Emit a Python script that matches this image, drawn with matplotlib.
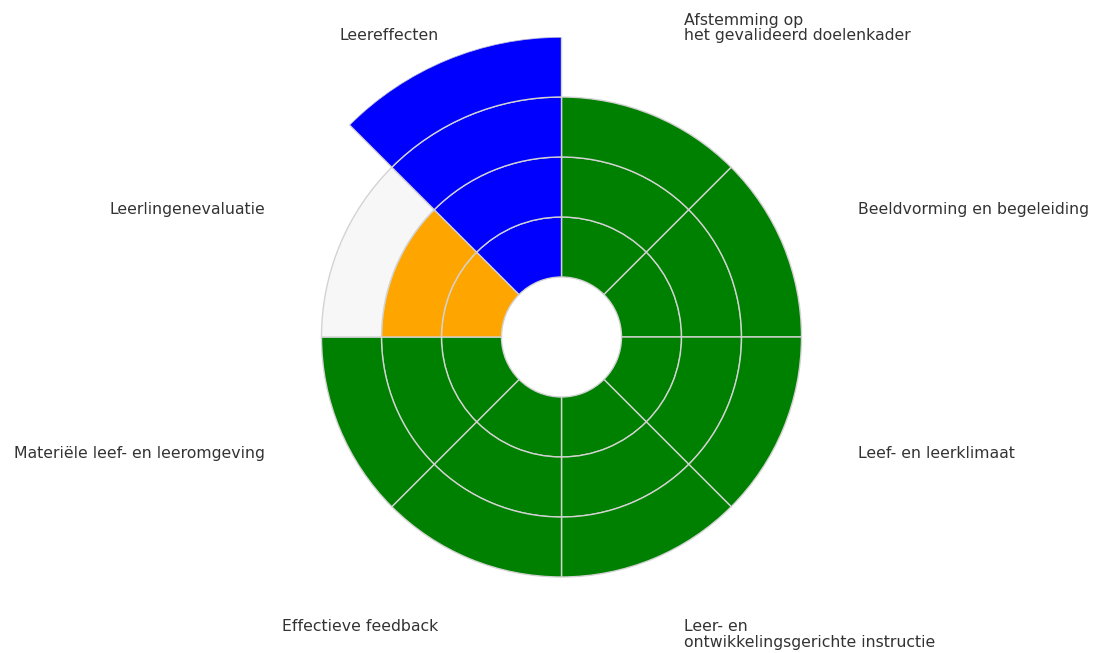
import numpy as np
import matplotlib
matplotlib.use("Agg")
import matplotlib.pyplot as plt

# sectors, clockwise from 12 o'clock
labels = [
    "Afstemming op\nhet gevalideerd doelenkader",
    "Beeldvorming en begeleiding",
    "Leef- en leerklimaat",
    "Leer- en\nontwikkelingsgerichte instructie",
    "Effectieve feedback",
    "Materiële leef- en leeromgeving",
    "Leerlingenevaluatie",
    "Leereffecten",
]
scores = [3, 3, 3, 3, 3, 3, 2, 4]      # filled rings per sector
max_scores = [3, 3, 3, 3, 3, 3, 3, 4]  # rings incl. empty (grey) ones
colors = ["green", "green", "green", "green", "green", "green", "orange", "blue"]

HOLE = 1.0
EMPTY = "#f7f7f7"
EDGE = "lightgray"

fig = plt.figure(figsize=(11.01, 6.53), dpi=100)
ax = fig.add_axes([261.5 / 1101, 16 / 653, 600 / 1101, 600 / 653], polar=True)
ax.set_theta_zero_location("N")
ax.set_theta_direction(-1)

n = len(labels)
width = 2 * np.pi / n
theta = np.arange(n) * width + width / 2

for i in range(n):
    for lvl in range(max_scores[i]):
        fc = colors[i] if lvl < scores[i] else EMPTY
        ax.bar(theta[i], 1, width=width, bottom=HOLE + lvl, color=fc,
               edgecolor=EDGE, linewidth=1, align="center")

ax.set_ylim(0, 5)
ax.set_xticks([])
ax.set_yticks([])
ax.grid(False)
ax.spines["polar"].set_visible(False)

# labels just outside the chart, left/right aligned by side
for t, lab in zip(theta, labels):
    ha = "left" if np.sin(t) > 0 else "right"
    if np.cos(t) > 0.5:
        va, off = "bottom", -2
    elif np.cos(t) < -0.5:
        va, off = "top", 10.5
    elif np.cos(t) > 0:
        va, off = "center", 3
    else:
        va, off = "center", 4.5
    ax.annotate(lab, xy=(t, 5.35), xytext=(0, off), textcoords="offset points",
                ha=ha, va=va, fontsize=11.3, color="0.2", linespacing=1.05,
                annotation_clip=False)

fig.savefig("out.png", dpi=100)
